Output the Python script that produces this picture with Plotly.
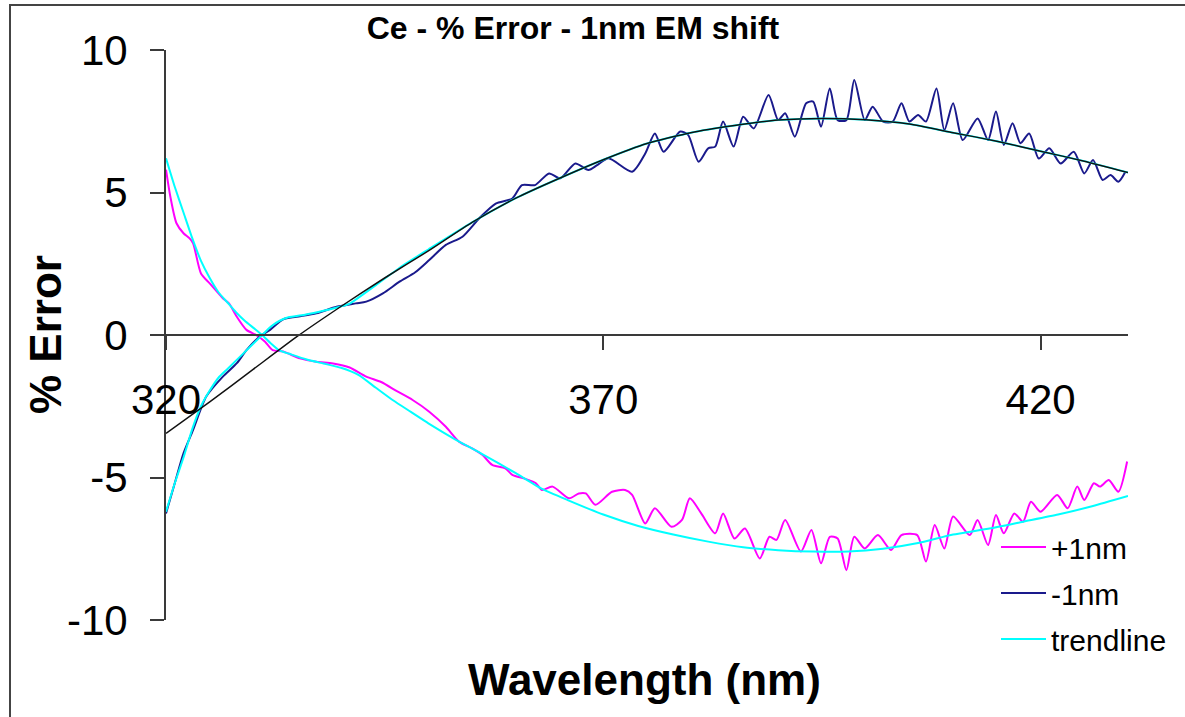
import plotly.graph_objects as go

# ---- data ----
plus1_wl = [320, 320.5, 321.2, 322, 322.7, 323.1, 324, 325, 326.5, 327.2, 328.1, 329.2, 330.3, 331.3,
            332.2, 333.4, 335.3, 337.2, 339.1, 341, 342.9, 344.6, 346.4, 348.2, 350.1, 352, 353.5,
            355, 356.2, 357.3, 358.8, 359.6, 361.1, 362.3, 363, 364.2, 366.1, 367.2, 368, 369.1,
            371, 372.5, 373.3, 374.8, 375.9, 377.8, 379, 379.9, 381.2, 382.8, 383.7, 385, 386.2,
            387.9, 389, 389.8, 390.8, 392.6, 393.8, 394.9, 395.9, 396.8, 397.8, 398.7, 399.9, 401.4,
            402.9, 404.1, 405.9, 406.9, 407.9, 409, 410, 411.9, 412.8, 414, 414.9, 415.8, 417, 418,
            418.9, 420, 421.9, 423.1, 424.2, 425, 426.1, 426.8, 427.8, 428.9, 429.9]
plus1_err = [5.8, 4.85, 3.92, 3.57, 3.39, 3.22, 2.16, 1.81, 1.29, 1.11, 0.64, 0.18, 0.0, -0.23,
             -0.53, -0.58, -0.82, -0.94, -1.0, -1.14, -1.46, -1.65, -1.97, -2.28, -2.69, -3.22, -3.74,
             -3.98, -4.21, -4.56, -4.68, -4.91, -5.05, -5.2, -5.44, -5.32, -5.73, -5.56, -5.56, -5.96,
             -5.5, -5.44, -5.61, -6.61, -6.08, -6.73, -6.49, -5.73, -6.26, -6.96, -6.26, -7.14, -6.79,
             -7.84, -7.08, -7.19, -6.49, -7.6, -6.84, -8.01, -7.08, -7.14, -8.25, -7.08, -7.49, -7.02,
             -7.54, -7.02, -7.02, -7.95, -6.67, -7.49, -6.37, -7.02, -6.49, -7.37, -6.32, -6.96, -6.26, -6.55,
             -5.85, -6.2, -5.61, -6.08, -5.32, -5.79, -5.2, -5.32, -5.09, -5.5, -4.44]

minus1_wl = [320, 321, 322, 323.1, 324.6, 326.5, 328.1, 329.2, 330.7, 331.9, 333.4, 334.9, 337.2,
             339.5, 341.7, 342.9, 344.8, 346.7, 348.5, 350.1, 352, 353.9, 355.8, 357.7, 359.6, 360.7,
             362.2, 363.8, 365.1, 366.8, 368.3, 369.3, 370.6, 373.3, 374.8, 375.9, 376.9, 378.8,
             379.7, 380.9, 382, 382.8, 383.7, 384.9, 386, 387.2, 388.9, 390, 390.8, 391.9, 393.2,
             394, 394.9, 395.9, 396.8, 397.8, 398.7, 399.9, 400.8, 402, 403.1, 404.1, 405, 406,
             406.9, 408.1, 409, 410, 411.1, 412.8, 414, 414.9, 415.8, 416.8, 417.7, 418.7, 419.8,
             421, 422.3, 423.8, 425, 426, 427.1, 428, 428.9, 429.7]
minus1_err = [-6.26, -5.2, -4.15, -3.33, -2.16, -1.46, -0.99, -0.53, -0.06, 0.18, 0.55, 0.64, 0.76,
              0.99, 1.11, 1.17, 1.46, 1.87, 2.2, 2.63, 3.16, 3.45, 4.09, 4.61, 4.79, 5.26,
              5.26, 5.67, 5.5, 6.02, 5.79, 5.96, 6.2, 5.73, 6.37, 7.07, 6.43, 7.14,
              7.02, 6.08, 6.55, 6.61, 7.49, 6.61, 7.66, 7.25, 8.42, 7.54, 7.78, 6.96, 8.13,
              8.19, 7.31, 8.65, 7.54, 7.54, 8.95, 7.54, 8.01, 7.49, 7.49, 8.13, 7.49, 7.72,
              7.49, 8.65, 7.19, 8.13, 6.84, 7.6, 6.84, 7.84, 6.67, 7.43, 6.73, 7.07, 6.19,
              6.55, 6.02, 6.43, 5.67, 6.14, 5.44, 5.61, 5.38, 5.73]

trend_lo_wl = [320, 321, 322, 323, 324, 325, 326, 327, 328, 329, 330, 331, 332, 333, 334, 336, 338,
               340, 342, 344, 346, 348, 350, 353, 356, 360, 363, 366, 370, 374, 378, 382, 386, 390,
               394, 398, 402, 406, 410, 414, 418, 422, 426, 430]
trend_lo_err = [6.2, 5.2, 4.3, 3.4, 2.6, 2.0, 1.5, 1.15, 0.8, 0.5, 0.25, 0.0, -0.3, -0.55, -0.65, -0.85,
                -1.0, -1.15, -1.4, -1.85, -2.3, -2.7, -3.1, -3.65, -4.15, -4.85, -5.4, -5.8, -6.3, -6.7,
                -7.0, -7.25, -7.45, -7.55, -7.6, -7.6, -7.5, -7.3, -7.0, -6.8, -6.55, -6.3, -6.0, -5.65]

trend_hi_wl = [320, 321, 322, 323, 324, 325, 326, 327, 328, 329, 330, 331, 332, 333, 334, 336, 338,
               340, 341, 344, 347, 350, 355, 360, 365, 370, 375, 380, 385, 390, 395, 400, 405,
               410, 415, 420, 425, 430]
trend_hi_err = [-6.2, -5.2, -4.3, -3.3, -2.5, -1.95, -1.5, -1.2, -0.9, -0.6, -0.3, 0.0, 0.3, 0.5, 0.62,
                0.72, 0.85, 1.0, 1.1, 1.75, 2.42, 3.0, 3.95, 4.8, 5.5, 6.15, 6.72, 7.1, 7.35, 7.54,
                7.6, 7.55, 7.4, 7.1, 6.8, 6.45, 6.1, 5.7]

fit_wl = [320, 325, 330, 335, 340, 345, 350, 355, 360, 365, 370, 375, 380, 385, 390, 395, 400,
          405, 410, 415, 420, 425, 430]
fit_err = [-3.45, -2.35, -1.2, -0.05, 1.0, 2.0, 2.95, 3.95, 4.8, 5.5, 6.15, 6.72, 7.1, 7.35, 7.54,
           7.6, 7.55, 7.4, 7.1, 6.8, 6.45, 6.1, 5.7]

x_ticks = [320, 370, 420]
y_ticks = [-10, -5, 0, 5, 10]

FONT = "Arial, 'Liberation Sans', sans-serif"
AXIS = "#3a3a3a"

fig = go.Figure()
fig.add_trace(go.Scatter(x=plus1_wl, y=plus1_err, mode="lines", name="+1nm",
                         line=dict(color="#FF00FF", width=2, shape="spline", smoothing=0.7),
                         legendgroup="a"))
fig.add_trace(go.Scatter(x=minus1_wl, y=minus1_err, mode="lines", name="-1nm",
                         line=dict(color="#1A1A8C", width=2, shape="spline", smoothing=0.7),
                         legendgroup="b"))
fig.add_trace(go.Scatter(x=trend_lo_wl, y=trend_lo_err, mode="lines", name="trendline",
                         line=dict(color="#00FFFF", width=2, shape="spline", smoothing=0.5),
                         legendgroup="c"))
fig.add_trace(go.Scatter(x=trend_hi_wl, y=trend_hi_err, mode="lines", name="trendline",
                         line=dict(color="#00FFFF", width=2, shape="spline", smoothing=0.5),
                         legendgroup="c", showlegend=False))
fig.add_trace(go.Scatter(x=fit_wl, y=fit_err, mode="lines", name="fit",
                         line=dict(color="#111111", width=1.5, shape="spline", smoothing=0.5),
                         showlegend=False))

L, R, T, B = 166, 57, 50, 97
W, H = 1185, 717
pw, ph = W - L - R, H - T - B

def px_x(p):
    return (p - L) / pw

def px_y(p):
    return (H - B - p) / ph

fig.update_layout(
    width=W, height=H,
    margin=dict(l=L, r=R, t=T, b=B),
    paper_bgcolor="white", plot_bgcolor="white",
    font=dict(family=FONT, color="black"),
    title=dict(text="<b>Ce - % Error - 1nm EM shift</b>", font=dict(size=32, family=FONT),
               x=px_x(573), xref="paper", xanchor="center",
               y=1 - 28 / H, yref="container", yanchor="middle"),
    xaxis=dict(range=[320, 430], tickvals=x_ticks, ticktext=[str(v) for v in x_ticks],
               showgrid=False, zeroline=False, showline=True, linecolor=AXIS, linewidth=2,
               ticks="outside", ticklen=14, tickwidth=2, tickcolor=AXIS,
               anchor="free", position=0.5, tickfont=dict(size=42, family=FONT),
               ticklabelstandoff=14),
    yaxis=dict(range=[-10, 10], tickvals=y_ticks, ticktext=[str(v) for v in y_ticks],
               showgrid=False, zeroline=False, showline=True, linecolor=AXIS, linewidth=2,
               ticks="outside", ticklen=14, tickwidth=2, tickcolor=AXIS,
               tickfont=dict(size=42, family=FONT), ticklabelstandoff=14),
    legend=dict(x=px_x(996), y=px_y(521), xanchor="left", yanchor="top",
                font=dict(size=30, family=FONT), bgcolor="rgba(0,0,0,0)",
                traceorder="grouped", tracegroupgap=4, itemwidth=45),
    showlegend=True,
)

fig.add_annotation(text="<b>Wavelength (nm)</b>", xref="paper", yref="paper",
                   x=px_x(644), y=px_y(680), showarrow=False,
                   font=dict(size=44, family=FONT), xanchor="center", yanchor="middle")
fig.add_annotation(text="<b>% Error</b>", xref="paper", yref="paper",
                   x=px_x(45), y=px_y(335), showarrow=False, textangle=-90,
                   font=dict(size=44, family=FONT), xanchor="center", yanchor="middle")

fig.add_shape(type="rect", xref="paper", yref="paper",
              x0=px_x(10), x1=px_x(1200), y0=px_y(730), y1=px_y(5),
              line=dict(color="#444444", width=2), fillcolor="rgba(0,0,0,0)", layer="below")

fig.write_html("out.html")
